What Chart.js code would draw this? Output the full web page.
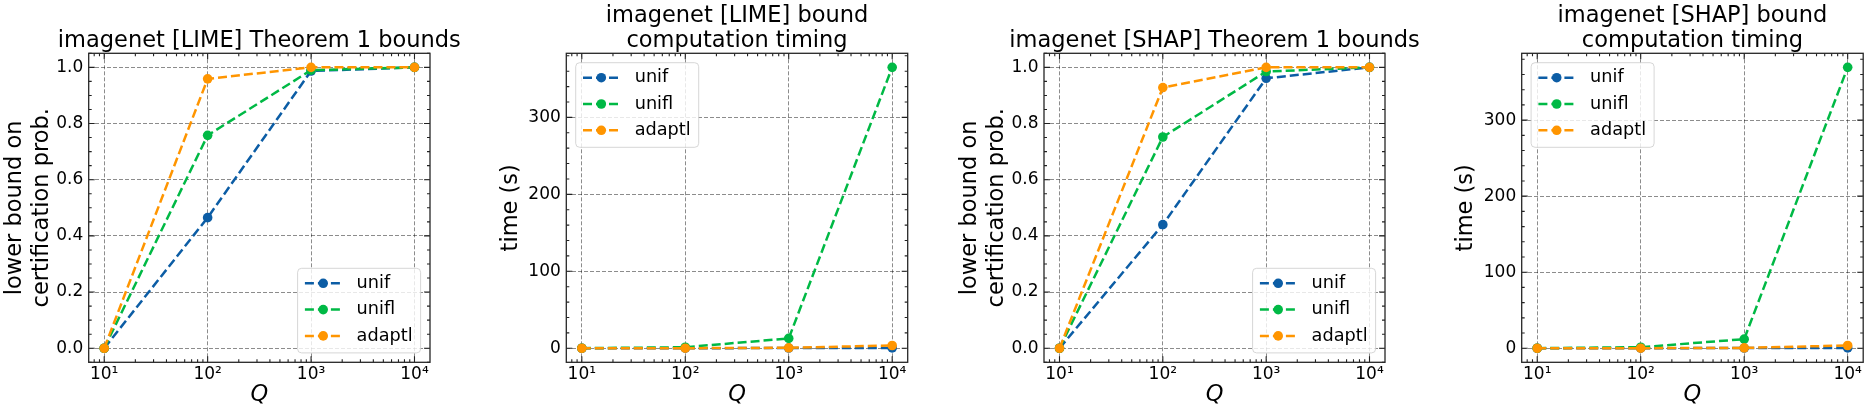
<!DOCTYPE html>
<html>
<head>
<meta charset="utf-8">
<script src="https://cdn.jsdelivr.net/npm/chart.js@4.4.1/dist/chart.umd.min.js"></script>
<style>
  html, body { margin: 0; padding: 0; background: #fff; }
  #fig { position: relative; width: 1868px; height: 415px; overflow: hidden; }
  #fig canvas { position: absolute; top: 0; }
</style>
</head>
<body>
<div id="fig"></div>
<script>
/* ---------- data ---------- */
var qValues = [10, 100, 1000, 10000];
var qTickValues = [10, 100, 1000, 10000];
var qTickLabels = ['10\u00b9', '10\u00b2', '10\u00b3', '10\u2074'];
var seriesNames = ['unif', 'unifl', 'adaptl'];

var limeBoundUnif   = [0, 0.465, 0.987, 1.0];
var limeBoundUnifl  = [0, 0.758, 0.990, 1.0];
var limeBoundAdaptl = [0, 0.959, 1.0, 1.0];

var limeTimeUnif   = [0, 0.05, 0.3, 0.4];
var limeTimeUnifl  = [0.1, 1.3, 12.8, 365];
var limeTimeAdaptl = [0, 0.1, 0.6, 3.6];

var shapBoundUnif   = [0, 0.440, 0.961, 1.0];
var shapBoundUnifl  = [0, 0.752, 0.985, 1.0];
var shapBoundAdaptl = [0, 0.928, 1.0, 1.0];

var shapTimeUnif   = [0, 0.05, 0.3, 0.4];
var shapTimeUnifl  = [0.1, 1.4, 12.0, 369.4];
var shapTimeAdaptl = [0, 0.1, 0.5, 3.6];

var boundTicks = [0, 0.2, 0.4, 0.6, 0.8, 1.0];
var timeTicks = [0, 100, 200, 300];

/* ---------- style ---------- */
var COLORS = ['#0C5DA5', '#00B945', '#FF9500'];
var FONT = 'DejaVu Sans';
var FIG_H = 415, AREA_TOP = 53.3, AREA_BOTTOM = 362.3;

var panels = [
  { title: ['imagenet [LIME] Theorem 1 bounds'], ylabel: ['lower bound on', 'certification prob.'],
    series: [limeBoundUnif, limeBoundUnifl, limeBoundAdaptl], yTicks: boundTicks, yDec: 1, yMinorDiv: 4,
    legendAt: 'br', canvasLeft: 0, canvasW: 520, areaLeft: 88.7, areaRight: 430, ylabelGap: 73.5 },
  { title: ['imagenet [LIME] bound', 'computation timing'], ylabel: 'time (s)',
    series: [limeTimeUnif, limeTimeUnifl, limeTimeAdaptl], yTicks: timeTicks, yDec: 0, yMinorDiv: 5,
    legendAt: 'tl', canvasLeft: 470, canvasW: 460, areaLeft: 566.3, areaRight: 907.7, ylabelGap: 55.5 },
  { title: ['imagenet [SHAP] Theorem 1 bounds'], ylabel: ['lower bound on', 'certification prob.'],
    series: [shapBoundUnif, shapBoundUnifl, shapBoundAdaptl], yTicks: boundTicks, yDec: 1, yMinorDiv: 4,
    legendAt: 'br', canvasLeft: 935, canvasW: 500, areaLeft: 1044, areaRight: 1385, ylabelGap: 73.5 },
  { title: ['imagenet [SHAP] bound', 'computation timing'], ylabel: 'time (s)',
    series: [shapTimeUnif, shapTimeUnifl, shapTimeAdaptl], yTicks: timeTicks, yDec: 0, yMinorDiv: 5,
    legendAt: 'tl', canvasLeft: 1400, canvasW: 468, areaLeft: 1521.7, areaRight: 1863.3, ylabelGap: 55.5 }
];

Chart.defaults.font.family = FONT;
Chart.defaults.color = '#000';

/* ---------- decorations: frame, inward ticks, title, legend ---------- */
function logMinors(lo, hi) {
  var out = [];
  for (var d = Math.floor(Math.log10(lo)); d <= Math.ceil(Math.log10(hi)); d++) {
    for (var k = 2; k <= 9; k++) {
      var v = k * Math.pow(10, d);
      if (v >= lo && v <= hi) out.push(v);
    }
  }
  return out;
}
function linMinors(ticks, div, lo, hi) {
  var step = (ticks[1] - ticks[0]) / div, out = [];
  for (var v = ticks[0] - step * 20; v <= hi + 1e-9; v += step) {
    var isMajor = ticks.some(function (t) { return Math.abs(t - v) < step / 10; });
    if (!isMajor && v >= lo - 1e-9) out.push(v);
  }
  return out;
}

function makeDecor(p) {
  return {
    id: 'panelDecor',
    afterDatasetsDraw: function (chart) {
      var a = chart.chartArea, ctx = chart.ctx, xs = chart.scales.x, ys = chart.scales.y;
      ctx.save();
      // ticks (inward, all four sides)
      ctx.strokeStyle = '#222'; ctx.lineWidth = 1.1;
      ctx.beginPath();
      function vt(px, len) { ctx.moveTo(px, a.bottom); ctx.lineTo(px, a.bottom - len); ctx.moveTo(px, a.top); ctx.lineTo(px, a.top + len); }
      function ht(py, len) { ctx.moveTo(a.left, py); ctx.lineTo(a.left + len, py); ctx.moveTo(a.right, py); ctx.lineTo(a.right - len, py); }
      qTickValues.forEach(function (v) { vt(xs.getPixelForValue(v), 6); });
      logMinors(xs.min, xs.max).forEach(function (v) { vt(xs.getPixelForValue(v), 3); });
      p.yTicks.forEach(function (v) { ht(ys.getPixelForValue(v), 6); });
      linMinors(p.yTicks, p.yMinorDiv, ys.min, ys.max).forEach(function (v) { ht(ys.getPixelForValue(v), 3); });
      ctx.stroke();
      // frame
      ctx.strokeStyle = '#262626'; ctx.lineWidth = 1.3;
      ctx.strokeRect(a.left, a.top, a.right - a.left, a.bottom - a.top);
      // title
      ctx.fillStyle = '#000'; ctx.font = '22.5px "' + FONT + '"';
      ctx.textAlign = 'center'; ctx.textBaseline = 'alphabetic';
      var cx = (a.left + a.right) / 2, n = p.title.length;
      p.title.forEach(function (t, i) { ctx.fillText(t, cx, a.top - 6.7 - (n - 1 - i) * 25); });
      // legend
      var w = 123, h = 84.6, m = 9.4;
      var bx = p.legendAt === 'br' ? a.right - m - w : a.left + m;
      var by = p.legendAt === 'br' ? a.bottom - m - h : a.top + m;
      ctx.beginPath(); ctx.roundRect(bx, by, w, h, 4);
      ctx.fillStyle = 'rgba(255,255,255,0.8)'; ctx.fill();
      ctx.strokeStyle = 'rgba(204,204,204,0.8)'; ctx.lineWidth = 1; ctx.stroke();
      ctx.font = '17.7px "' + FONT + '"'; ctx.textAlign = 'left'; ctx.textBaseline = 'middle';
      chart.data.datasets.forEach(function (ds, i) {
        var y = by + 15 + i * 26.3;
        ctx.setLineDash(ds.borderDash); ctx.strokeStyle = ds.borderColor; ctx.lineWidth = ds.borderWidth;
        ctx.beginPath(); ctx.moveTo(bx + 7.3, y); ctx.lineTo(bx + 44, y); ctx.stroke();
        ctx.setLineDash([]);
        ctx.fillStyle = ds.borderColor;
        ctx.beginPath(); ctx.arc(bx + 25.6, y, ds.pointRadius, 0, Math.PI * 2); ctx.fill();
        ctx.fillStyle = '#000'; ctx.fillText(ds.label, bx + 59, y);
      });
      ctx.restore();
    }
  };
}

/* ---------- charts ---------- */
var fig = document.getElementById('fig');
panels.forEach(function (p) {
  var cv = document.createElement('canvas');
  cv.width = p.canvasW; cv.height = FIG_H;
  cv.style.left = p.canvasLeft + 'px';
  cv.style.width = p.canvasW + 'px'; cv.style.height = FIG_H + 'px';
  fig.appendChild(cv);

  var all = [].concat.apply([], p.series);
  var lo = Math.min.apply(null, all), hi = Math.max.apply(null, all), pad = (hi - lo) * 0.05;

  var datasets = p.series.map(function (vals, i) {
    return {
      label: seriesNames[i],
      data: qValues.map(function (q, j) { return { x: q, y: vals[j] }; }),
      borderColor: COLORS[i], backgroundColor: COLORS[i],
      borderWidth: 2.5, borderDash: [9, 4],
      pointRadius: 4.8, pointBorderWidth: 0, pointBackgroundColor: COLORS[i],
      tension: 0, clip: false, order: 2 - i
    };
  });

  var yTitleLine = 27;
  new Chart(cv, {
    type: 'line',
    data: { datasets: datasets },
    options: {
      responsive: false, animation: false, events: [],
      layout: { padding: { left: 0, top: AREA_TOP, bottom: 0, right: p.canvasLeft + p.canvasW - p.areaRight } },
      plugins: { legend: { display: false }, tooltip: { enabled: false } },
      scales: {
        x: {
          type: 'logarithmic', min: Math.pow(10, 0.85), max: Math.pow(10, 4.15),
          afterFit: function (s) { s.height = FIG_H - AREA_BOTTOM; },
          afterBuildTicks: function (s) { s.ticks = qTickValues.map(function (v) { return { value: v }; }); },
          ticks: {
            autoSkip: false, maxRotation: 0, padding: 2, color: '#000',
            font: { size: 17 },
            callback: function (v, i) { return qTickLabels[i]; }
          },
          grid: { color: 'rgba(0,0,0,0.45)', lineWidth: 1, drawTicks: false },
          border: { display: false, dash: [4, 2] },
          title: { display: true, text: 'Q', color: '#000',
                   font: { size: 22.5, style: 'italic', lineHeight: 1.2 }, padding: { top: 0, bottom: 6.3 } }
        },
        y: {
          type: 'linear', min: lo - pad, max: hi + pad,
          afterFit: function (s) { s.width = p.areaLeft - p.canvasLeft; },
          afterBuildTicks: function (s) { s.ticks = p.yTicks.map(function (v) { return { value: v }; }); },
          ticks: {
            padding: 5.5, color: '#000', font: { size: 17 },
            callback: function (v) { return v.toFixed(p.yDec); }
          },
          grid: { color: 'rgba(0,0,0,0.45)', lineWidth: 1, drawTicks: false },
          border: { display: false, dash: [4, 2] },
          title: { display: true, text: p.ylabel, color: '#000',
                   font: { size: 22.5, lineHeight: yTitleLine / 22.5 },
                   padding: { top: p.areaLeft - p.canvasLeft - p.ylabelGap - yTitleLine / 2, bottom: 0 } }
        }
      }
    },
    plugins: [makeDecor(p)]
  });
});
</script>
</body>
</html>
